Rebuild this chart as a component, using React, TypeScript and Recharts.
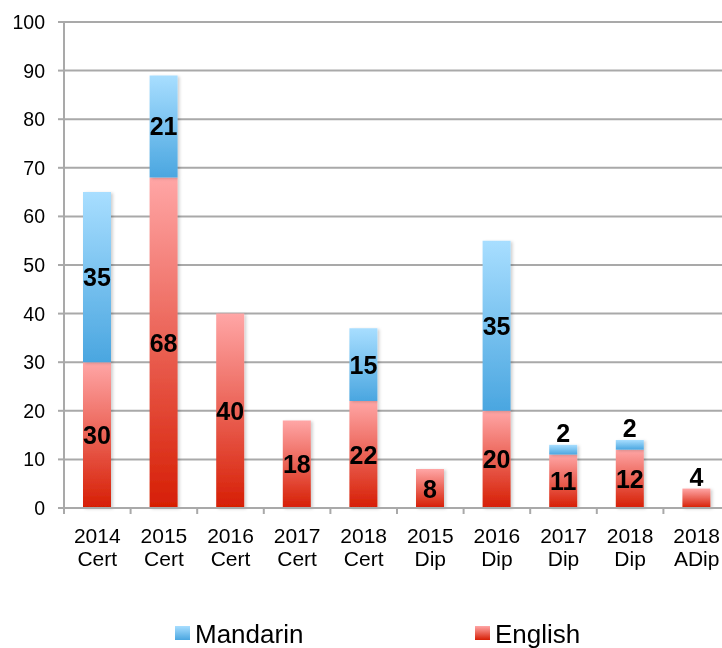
import React from 'react';
import { BarChart, Bar, XAxis, YAxis, CartesianGrid, Legend, LabelList } from 'recharts';

const categories = ['2014 Cert', '2015 Cert', '2016 Cert', '2017 Cert', '2018 Cert', '2015 Dip', '2016 Dip', '2017 Dip', '2018 Dip', '2018 ADip'];
const english = [30, 68, 40, 18, 22, 8, 20, 11, 12, 4];
const mandarin: (number | null)[] = [35, 21, null, null, 15, null, 35, 2, 2, null];
const yTicks = [0, 10, 20, 30, 40, 50, 60, 70, 80, 90, 100];

const data = categories.map((c, i) => ({ name: c, English: english[i], Mandarin: mandarin[i] }));

const CHART_W = 722;
const CHART_H = 640;
const Y_AXIS_W = 56;
const CAT_W = (CHART_W - Y_AXIS_W) / categories.length;
const GRID = '#A9A9A9';
const FONT = '"Liberation Sans", Arial, Helvetica, sans-serif';

const XTick = (props: any) => {
  const { x, y, payload } = props;
  const [a, b] = String(payload.value).split(' ');
  const bx = Number(x) - CAT_W / 2;
  return (
    <g>
      <line x1={bx} x2={bx} y1={Number(y)} y2={Number(y) + 6} stroke={GRID} strokeWidth={2} />
      <text x={x} y={Number(y) + 27} textAnchor="middle" dominantBaseline="central" fontSize={21} fill="#000" fontFamily={FONT}>{a}</text>
      <text x={x} y={Number(y) + 50} textAnchor="middle" dominantBaseline="central" fontSize={21} fill="#000" fontFamily={FONT}>{b}</text>
    </g>
  );
};

const renderLabel = (props: any) => {
  const { x, y, width, height, value } = props;
  if (value == null || value === 0) return null;
  const h = Math.abs(Number(height));
  const top = Math.min(Number(y), Number(y) + Number(height));
  const cy = h < 25 ? top - 12 : top + h / 2;
  return (
    <text x={Number(x) + Number(width) / 2} y={cy} textAnchor="middle" dominantBaseline="central" fontSize={25} fontWeight="bold" fill="#000" fontFamily={FONT}>
      {value}
    </text>
  );
};

const LegendContent = () => (
  <svg width={CHART_W} height={60} style={{ display: 'block' }}>
    <defs>
      <linearGradient id="lgBlue" x1="0" y1="0" x2="0" y2="1">
        <stop offset="0%" stopColor="#A8DEFF" />
        <stop offset="100%" stopColor="#4AA6E0" />
      </linearGradient>
      <linearGradient id="lgRed" x1="0" y1="0" x2="0" y2="1">
        <stop offset="0%" stopColor="#FFA6A6" />
        <stop offset="100%" stopColor="#D61E04" />
      </linearGradient>
    </defs>
    <rect x={167} y={38} width={15} height={14} fill="url(#lgBlue)" />
    <text x={187} y={55} fontSize={26} fill="#000" fontFamily={FONT}>Mandarin</text>
    <rect x={467} y={38} width={15} height={14} fill="url(#lgRed)" />
    <text x={487} y={55} fontSize={26} fill="#000" fontFamily={FONT}>English</text>
  </svg>
);

export default function App() {
  return (
    <div style={{ position: 'fixed', left: 8, top: 8, width: 714, height: 640, overflow: 'hidden', fontFamily: FONT }}>
      <BarChart width={CHART_W} height={CHART_H} data={data} margin={{ top: 14, right: 0, bottom: 0, left: 0 }} barSize={28}>
        <defs>
          <linearGradient id="gBlue" x1="0" y1="0" x2="0" y2="1">
            <stop offset="0%" stopColor="#A8DEFF" />
            <stop offset="100%" stopColor="#4AA6E0" />
          </linearGradient>
          <linearGradient id="gRed" x1="0" y1="0" x2="0" y2="1">
            <stop offset="0%" stopColor="#FFA6A6" />
            <stop offset="100%" stopColor="#D61E04" />
          </linearGradient>
          <filter id="shadow" x="-20%" y="-20%" width="150%" height="150%">
            <feDropShadow dx="2" dy="1" stdDeviation="1.5" floodColor="#000" floodOpacity="0.18" />
          </filter>
        </defs>
        <CartesianGrid vertical={false} stroke={GRID} strokeWidth={2} />
        <XAxis
          dataKey="name"
          interval={0}
          height={80}
          axisLine={{ stroke: GRID, strokeWidth: 2 }}
          tickLine={false}
          tickSize={0}
          tickMargin={0}
          tick={<XTick />}
        />
        <YAxis
          width={Y_AXIS_W}
          domain={[0, 100]}
          ticks={yTicks}
          interval={0}
          axisLine={{ stroke: GRID, strokeWidth: 2 }}
          tickLine={{ stroke: GRID, strokeWidth: 2 }}
          tickSize={6}
          tickMargin={13}
          tick={{ fill: '#000', fontSize: 19.5, fontFamily: FONT }}
        />
        <Legend verticalAlign="bottom" height={60} content={<LegendContent />} wrapperStyle={{ left: 0, bottom: 0, width: CHART_W, height: 60 }} />
        <Bar dataKey="English" stackId="a" fill="url(#gRed)" isAnimationActive={false} filter="url(#shadow)">
          <LabelList dataKey="English" content={renderLabel} />
        </Bar>
        <Bar dataKey="Mandarin" stackId="a" fill="url(#gBlue)" isAnimationActive={false} filter="url(#shadow)">
          <LabelList dataKey="Mandarin" content={renderLabel} />
        </Bar>
      </BarChart>
    </div>
  );
}
